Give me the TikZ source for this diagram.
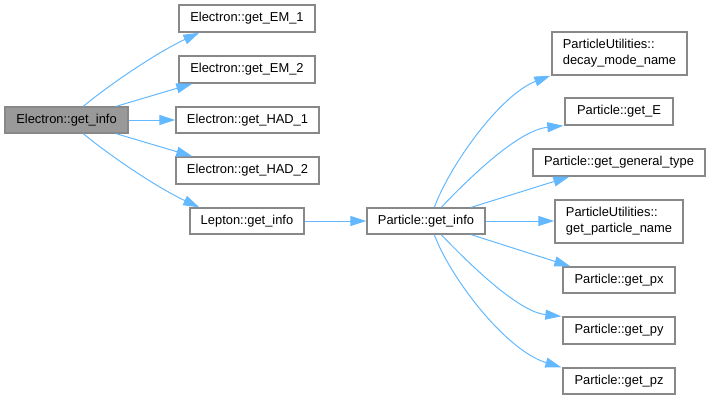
\documentclass[tikz,border=0pt]{standalone}
\usepackage{fontspec}
\setmainfont{Liberation Sans}
\usetikzlibrary{arrows.meta}
\definecolor{edgeblue}{HTML}{63B8FF}
\definecolor{boxgray}{HTML}{888888}
\definecolor{rootfill}{HTML}{999999}
\begin{document}
\begin{tikzpicture}[x=1pt,y=-1pt,
  fn/.style={draw=boxgray, line width=1.4pt, fill=white, inner sep=0pt,
    minimum height=26pt, font=\fontsize{12.9}{16}\selectfont, align=left},
  rootbox/.style={fn, fill=rootfill},
  call/.style={draw=edgeblue, line width=1pt, -{Triangle[length=16pt,width=10pt]}}]
\useasboundingbox (0,0) rectangle (711,400);
% nodes
\node[rootbox, minimum width=123pt] (root) at (66.5,120) {Electron::get\_info};
\node[fn, minimum width=136pt, minimum height=27pt] (em1) at (247,18.5) {Electron::get\_EM\_1};
\node[fn, minimum width=136pt, minimum height=27pt] (em2) at (247,69.5) {Electron::get\_EM\_2};
\node[fn, minimum width=143pt] (had1) at (247.5,120) {Electron::get\_HAD\_1};
\node[fn, minimum width=143pt, minimum height=27pt] (had2) at (247.5,170.5) {Electron::get\_HAD\_2};
\node[fn, minimum width=114pt] (lep) at (247,221) {Lepton::get\_info};
\node[fn, minimum width=118pt] (pinfo) at (426,221) {Particle::get\_info};
\node[fn, minimum width=135pt, minimum height=43pt] (dmn) at (619.5,53.5) {ParticleUtilities::\\decay\_mode\_name};
\node[fn, minimum width=108pt, minimum height=27pt] (getE) at (619,111.5) {Particle::get\_E};
\node[fn, minimum width=172pt, minimum height=27pt] (gtype) at (619,162.5) {Particle::get\_general\_type};
\node[fn, minimum width=128pt, minimum height=43pt] (pname) at (619,221.5) {ParticleUtilities::\\get\_particle\_name};
\node[fn, minimum width=112pt] (px) at (619,280) {Particle::get\_px};
\node[fn, minimum width=112pt, minimum height=27pt] (py) at (619,330.5) {Particle::get\_py};
\node[fn, minimum width=112pt] (pz) at (619,381) {Particle::get\_pz};
% edges from root
\draw[call] ([xshift=79pt]root.north west) .. controls (114,81) and (160,51) .. ([xshift=21pt]em1.south west);
\draw[call] ([xshift=112pt]root.north west) -- ([xshift=14pt]em2.south west);
\draw[call] (root.east) -- (had1.west);
\draw[call] ([xshift=112pt]root.south west) -- ([xshift=17pt]had2.north west);
\draw[call] ([xshift=79pt]root.south west) .. controls (114,159) and (160,189) .. ([xshift=10pt]lep.north west);
\draw[call] (lep.east) -- (pinfo.west);
% edges from Particle::get_info
\draw[call] ([xshift=68pt]pinfo.north west) .. controls (450,165) and (500,95) .. ([xshift=-1pt]dmn.south west);
\draw[call] ([xshift=75pt]pinfo.north west) .. controls (475,172) and (520,130) .. ([xshift=-1pt]getE.south west);
\draw[call] ([xshift=105pt]pinfo.north west) -- ([xshift=37pt]gtype.south west);
\draw[call] (pinfo.east) -- (pinfo.east -| pname.west);
\draw[call] ([xshift=105pt]pinfo.south west) -- ([xshift=8pt]px.north west);
\draw[call] ([xshift=75pt]pinfo.south west) .. controls (475,270) and (520,312) .. ([xshift=-1pt]py.north west);
\draw[call] ([xshift=68pt]pinfo.south west) .. controls (450,277) and (505,350) .. ([xshift=-1pt]pz.north west);
\end{tikzpicture}
\end{document}
